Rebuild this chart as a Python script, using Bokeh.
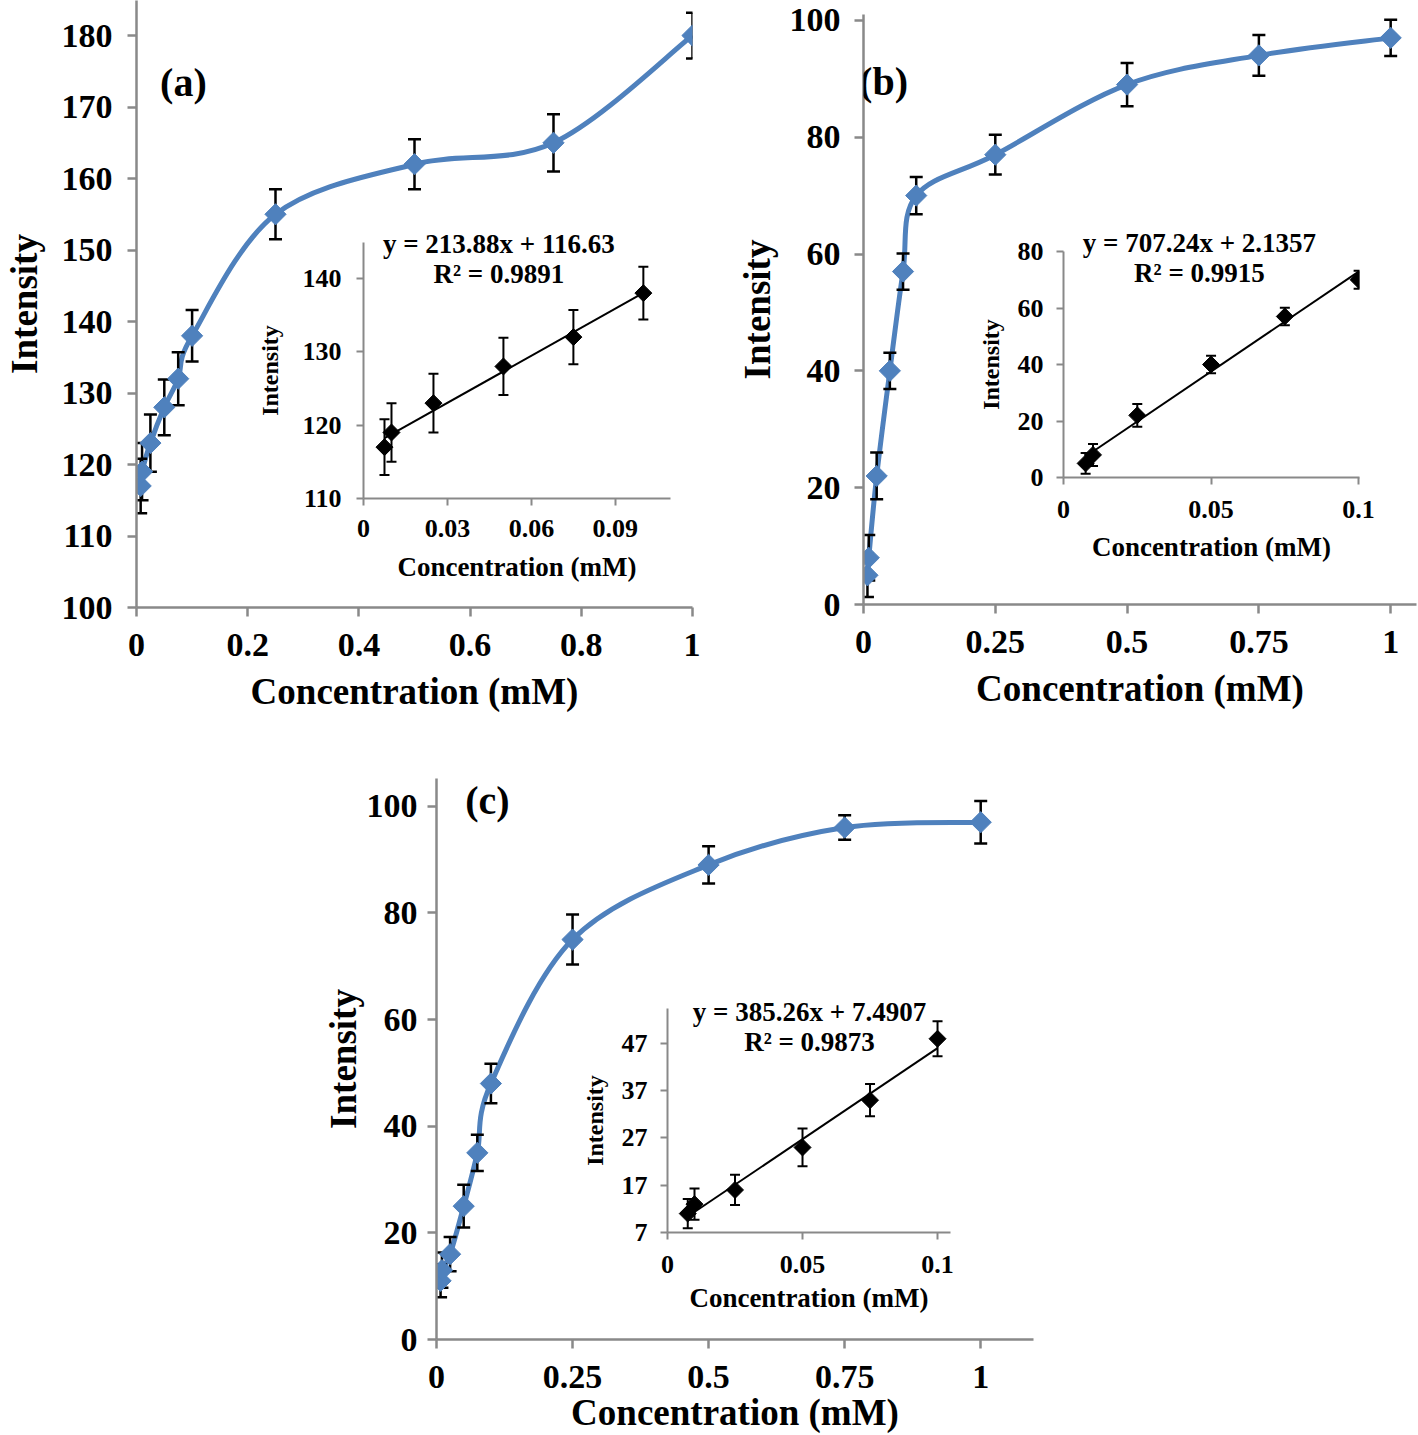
import numpy as np
from bokeh.plotting import figure
from bokeh.models import (Range1d, FixedTicker, CustomJSTickFormatter, Label, GridBox)
from bokeh.embed import file_html
from bokeh.resources import INLINE

# ---------------- data ----------------
conc = [0.0075, 0.01, 0.025, 0.05, 0.075, 0.1, 0.25, 0.5, 0.75, 1.0]
int_a = [117, 119, 123, 128, 132, 138, 155, 162, 165, 180]
err_a = [3.8, 4.0, 4.0, 3.9, 3.7, 3.6, 3.5, 3.5, 4.0, 3.2]
int_b = [5, 8, 22, 40, 57, 70, 77, 89, 94, 97]
err_b = [3.7, 3.9, 4.0, 3.1, 3.1, 3.2, 3.4, 3.7, 3.5, 3.1]
int_c = [11, 13, 16, 25, 35, 48, 75, 89, 96, 97]
err_c = [3.1, 3.3, 3.2, 4.0, 3.4, 3.7, 4.7, 3.5, 2.3, 4.0]
n_linear = 6  # points shown in the insets (0.0075 .. 0.1 mM)

fit_slope = [213.88, 707.24, 385.26]
fit_intercept = [116.63, 2.1357, 7.4907]
eq_text = ["y = 213.88x + 116.63", "y = 707.24x + 2.1357", "y = 385.26x + 7.4907"]
r2_text = ["R² = 0.9891", "R² = 0.9915", "R² = 0.9873"]
panel_names = ["(a)", "(b)", "(c)"]

xticks_a = [0, 0.2, 0.4, 0.6, 0.8, 1]
yticks_a = [100, 110, 120, 130, 140, 150, 160, 170, 180]
xticks_bc = [0, 0.25, 0.5, 0.75, 1]
yticks_bc = [0, 20, 40, 60, 80, 100]
in_xticks_a = [0, 0.03, 0.06, 0.09]
in_yticks_a = [110, 120, 130, 140]
in_xticks_b = [0, 0.05, 0.1]
in_yticks_b = [0, 20, 40, 60, 80]
in_xticks_c = [0, 0.05, 0.1]
in_yticks_c = [7, 17, 27, 37, 47]

x_title = "Concentration (mM)"
y_title = "Intensity"

# ---------------- style ----------------
FONT = "Liberation Serif"
BLUE = "#4F81BD"
AXIS = "#898989"
fmt = CustomJSTickFormatter(code="return String(tick);")


def make_fig(box, frame, xr, yr):
    L, T, R, B = box
    fl, ft, fr, fb = frame
    p = figure(width=R - L, height=B - T,
               x_range=Range1d(*xr), y_range=Range1d(*yr),
               output_backend="svg", toolbar_location=None,
               min_border_left=fl - L, min_border_right=R - fr,
               min_border_top=ft - T, min_border_bottom=B - fb)
    p.frame_align = False
    p.xgrid.visible = False
    p.ygrid.visible = False
    p.outline_line_color = None
    return p


def style_axes(p, xt, yt, lab_px, ttl_px, y_ttl_px, lw, tick, sx, sy):
    for ax, ticks, (s_lab, s_ttl), tp in ((p.xaxis[0], xt, sx, ttl_px),
                                          (p.yaxis[0], yt, sy, y_ttl_px)):
        ax.ticker = FixedTicker(ticks=ticks)
        ax.formatter = fmt
        ax.axis_line_color = AXIS
        ax.axis_line_width = lw
        ax.major_tick_line_color = AXIS
        ax.major_tick_line_width = lw
        ax.major_tick_in = 0
        ax.major_tick_out = tick
        ax.minor_tick_line_color = None
        ax.major_label_text_font = FONT
        ax.major_label_text_font_style = "bold"
        ax.major_label_text_font_size = f"{lab_px}px"
        ax.major_label_text_color = "black"
        ax.major_label_standoff = s_lab
        ax.axis_label_text_font = FONT
        ax.axis_label_text_font_style = "bold"
        ax.axis_label_text_font_size = f"{tp}px"
        ax.axis_label_text_color = "black"
        ax.axis_label_standoff = s_ttl
    p.xaxis[0].axis_label = x_title
    p.yaxis[0].axis_label = y_title


def bezier_parts(xs, ys):
    n = len(xs)
    P = [(xs[i], ys[i]) for i in range(n)]
    out = {k: [] for k in ("x0", "y0", "x1", "y1", "cx0", "cy0", "cx1", "cy1")}
    for i in range(n - 1):
        pm = P[i - 1] if i > 0 else P[i]
        p0 = P[i]
        p1 = P[i + 1]
        p2 = P[i + 2] if i + 2 < n else P[i + 1]
        out["x0"].append(p0[0]); out["y0"].append(p0[1])
        out["x1"].append(p1[0]); out["y1"].append(p1[1])
        out["cx0"].append(p0[0] + (p1[0] - pm[0]) / 6.0)
        out["cy0"].append(p0[1] + (p1[1] - pm[1]) / 6.0)
        out["cx1"].append(p1[0] - (p2[0] - p0[0]) / 6.0)
        out["cy1"].append(p1[1] - (p2[1] - p0[1]) / 6.0)
    return out


def add_errorbars(p, xs, ys, es, lw, cap):
    lo = [y - e for y, e in zip(ys, es)]
    hi = [y + e for y, e in zip(ys, es)]
    p.segment(x0=xs, y0=lo, x1=xs, y1=hi, line_color="black", line_width=lw)
    p.scatter(xs, hi, marker="dash", size=cap, line_color="black", line_width=lw)
    p.scatter(xs, lo, marker="dash", size=cap, line_color="black", line_width=lw)


def text_label(p, x, y, txt, size):
    p.add_layout(Label(x=x, y=y, text=txt, text_align="center",
                       text_baseline="middle", text_font=FONT, text_font_style="bold",
                       text_font_size=size, text_color="black"))


def main_panel(box, frame, xr, yr, xt, yt, ys, es, k, name_xy, eq_xy, sx, sy):
    p = make_fig(box, frame, xr, yr)
    style_axes(p, xt, yt, 34, 37, 37, 2.5, 9, sx, sy)
    b = bezier_parts(conc, ys)
    p.bezier(line_color=BLUE, line_width=5, **b)
    add_errorbars(p, conc, ys, es, 2.5, 13)
    p.scatter(conc, ys, marker="square", angle=np.pi / 4, size=15,
              fill_color=BLUE, line_color=BLUE)
    text_label(p, name_xy[0], name_xy[1], panel_names[k], "40px")
    # linear-fit annotation of the inset (drawn in the main frame so it is not clipped)
    text_label(p, eq_xy[0], eq_xy[1], eq_text[k], "27px")
    text_label(p, eq_xy[0], eq_xy[2], r2_text[k], "27px")
    return p


def inset_panel(box, frame, xr, yr, xt, yt, ys, es, k, sx, sy):
    p = make_fig(box, frame, xr, yr)
    p.background_fill_alpha = 0
    p.border_fill_alpha = 0
    style_axes(p, xt, yt, 26, 27, 24, 2, 7, sx, sy)
    xs = conc[:n_linear]
    yv = ys[:n_linear]
    ev = es[:n_linear]
    lx = [xs[0], xs[-1]]
    ly = [fit_slope[k] * v + fit_intercept[k] for v in lx]
    p.line(lx, ly, line_color="black", line_width=2)
    add_errorbars(p, xs, yv, ev, 2, 10)
    p.scatter(xs, yv, marker="square", angle=np.pi / 4, size=12,
              fill_color="black", line_color="black")
    return p


# boxes / frames in page pixel coordinates (left, top, right, bottom)
boxA, frameA = (0, 0, 700, 760), (135, 0, 692, 607)
boxB, frameB = (700, 0, 1418, 760), (863, 14, 1416, 604)
boxC, frameC = (300, 770, 1040, 1435), (436, 778, 1033, 1340)
boxIA, frameIA = (240, 220, 680, 620), (363, 242, 670, 498)
boxIB, frameIB = (960, 220, 1410, 600), (1063, 251, 1359, 477)
boxIC, frameIC = (560, 985, 965, 1350), (667, 1008, 950, 1232)

fa = main_panel(boxA, frameA, (0, 1.0), (100, 184.9), xticks_a, yticks_a,
                int_a, err_a, 0, (0.0844, 173.4), (0.6517, 150.9, 146.7),
                (17, 12), (15, 14))
fb = main_panel(boxB, frameB, (0, 1.049), (0, 101.0), xticks_bc, yticks_bc,
                int_b, err_b, 1, (0.038, 89.5), (0.6373, 61.8, 56.7),
                (17, 12), (14, 9))
fc = main_panel(boxC, frameC, (0, 1.097), (0, 105.2), xticks_bc, yticks_bc,
                int_c, err_c, 2, (0.0937, 101.1), (0.6854, 61.4, 55.8),
                (17, 1), (10, 0))
ia = inset_panel(boxIA, frameIA, (0, 0.1097), (110, 144.9), in_xticks_a, in_yticks_a,
                 int_a, err_a, 0, (14, 12), (15, 17))
ib = inset_panel(boxIB, frameIB, (0, 0.1003), (0, 80), in_xticks_b, in_yticks_b,
                 int_b, err_b, 1, (16, 11), (13, 11))
ic = inset_panel(boxIC, frameIC, (0, 0.1048), (7, 54.4), in_xticks_c, in_yticks_c,
                 int_c, err_c, 2, (16, 7), (13, 11))

items = [(fa, boxA), (fb, boxB), (fc, boxC), (ia, boxIA), (ib, boxIB), (ic, boxIC)]
xs_b = sorted({b[0] for _, b in items} | {b[2] for _, b in items})
ys_b = sorted({b[1] for _, b in items} | {b[3] for _, b in items})
cols = [f"{xs_b[i + 1] - xs_b[i]}px" for i in range(len(xs_b) - 1)]
rows = [f"{ys_b[i + 1] - ys_b[i]}px" for i in range(len(ys_b) - 1)]
children = []
for fig, b in items:
    c0 = xs_b.index(b[0]); c1 = xs_b.index(b[2])
    r0 = ys_b.index(b[1]); r1 = ys_b.index(b[3])
    children.append((fig, r0, c0, r1 - r0, c1 - c0))

grid = GridBox(children=children, rows=rows, cols=cols, spacing=0)

open("out.html", "w").write(file_html(grid, INLINE))
